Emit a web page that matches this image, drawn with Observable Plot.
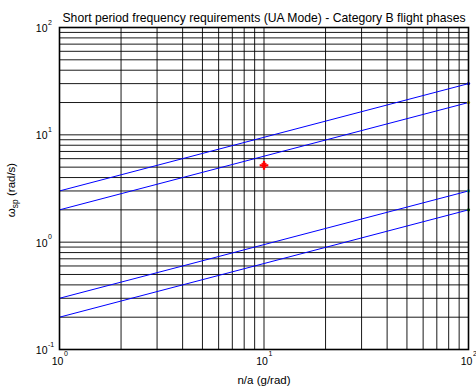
<!DOCTYPE html>
<html>
<head>
<meta charset="utf-8">
<script src="https://cdn.jsdelivr.net/npm/d3@7"></script>
<script src="https://cdn.jsdelivr.net/npm/@observablehq/plot@0.6"></script>
<style>
  html, body { margin: 0; padding: 0; background: #fff; }
  svg { display: block; }
</style>
</head>
<body>
<div id="chart"></div>
<script>
// ---- data ----
const titleText = "Short period frequency requirements (UA Mode) - Category B flight phases";
const xLabel = "n/a (g/rad)";
const nOverA = [1, 100];
const boundA = [3, 30];     // upper limit of upper band
const boundB = [2, 20];     // lower limit of upper band
const boundC = [0.3, 3];    // upper limit of lower band
const boundD = [0.2, 2];    // lower limit of lower band
const boundNames = ["A", "B", "C", "D"];
const endColors = ["#0000ff", "#bfbf00", "#00bfbf", "#008000"];
const pointX = [10];
const pointY = [5.2];
const xGrid = [1,2,3,4,5,6,7,8,9,10,20,30,40,50,60,70,80,90,100];
const yGrid = [0.1,0.2,0.3,0.4,0.5,0.6,0.7,0.8,0.9,1,2,3,4,5,6,7,8,9,10,20,30,40,50,60,70,80,90,100];
const xMajor = [1, 10, 100];
const xExp = ["0", "1", "2"];
const yMajor = [0.1, 1, 10, 100];
const yExp = ["-1", "0", "1", "2"];

// ---- build tables ----
const bounds = [boundA, boundB, boundC, boundD];
const lineRows = [];
bounds.forEach((b, i) => nOverA.forEach((x, j) => lineRows.push({x, y: b[j], s: boundNames[i]})));
const endRows = bounds.map((b, i) => ({x: nOverA[nOverA.length - 1], y: b[b.length - 1], c: endColors[i]}));
const pts = pointX.map((x, i) => ({x, y: pointY[i]}));
const xTickRows = xMajor.map((v, i) => ({v, e: xExp[i]}));
const yTickRows = yMajor.map((v, i) => ({v, e: yExp[i]}));

const font = "'Liberation Sans', Arial, Helvetica, sans-serif";

const plot = Plot.plot({
  width: 476,
  height: 392,
  marginLeft: 59,
  marginRight: 8,
  marginTop: 27,
  marginBottom: 43,
  style: {fontFamily: font, fontSize: "10px", background: "#fff", overflow: "visible"},
  x: {type: "log", domain: [1, 100], axis: null},
  y: {type: "log", domain: [0.1, 100], axis: null},
  marks: [
    Plot.ruleX(xGrid, {x: d => d, stroke: "#000", strokeWidth: 1, strokeOpacity: 0.9}),
    Plot.ruleY(yGrid, {y: d => d, stroke: "#000", strokeWidth: 1, strokeOpacity: 0.9}),
    Plot.line(lineRows, {x: "x", y: "y", z: "s", stroke: "#0000ff", strokeWidth: 1}),
    Plot.dot(endRows, {x: "x", y: "y", r: 1.6, fill: "c", stroke: null}),
    Plot.dot(pts, {x: "x", y: "y", symbol: "plus", r: 2.9, stroke: "#ff0000", strokeWidth: 2.2, fill: "none"}),
    Plot.dot(pts, {x: "x", y: "y", symbol: "times", r: 2.2, stroke: "#ff0000", strokeWidth: 1.2, fill: "none"}),
    Plot.frame({stroke: "#000", strokeWidth: 1.6}),
    // x tick labels
    Plot.text(xTickRows, {x: "v", text: () => "10", frameAnchor: "bottom", dy: 15, dx: -2, textAnchor: "middle", fontSize: 10.5, fill: "#000"}),
    Plot.text(xTickRows, {x: "v", text: "e", frameAnchor: "bottom", dy: 6.5, dx: 4.5, textAnchor: "start", fontSize: 7, fill: "#000"}),
    // y tick labels
    Plot.text(yTickRows, {y: "v", text: () => "10", frameAnchor: "left", dx: -12, dy: 1, textAnchor: "end", fontSize: 10.5, fill: "#000"}),
    Plot.text(yTickRows, {y: "v", text: "e", frameAnchor: "left", dx: -11.5, dy: -5, textAnchor: "start", fontSize: 7, fill: "#000"}),
    // title and x label
    Plot.text([titleText], {frameAnchor: "top", dy: -14, fontSize: 12.2, fill: "#000"}),
    Plot.text([xLabel], {frameAnchor: "bottom", dy: 34, fontSize: 11.5, fill: "#000"})
  ]
});

document.getElementById("chart").appendChild(plot);

// y axis label with subscript
const svg = d3.select(plot);
const yl = svg.append("text")
  .attr("transform", "translate(15,190) rotate(-90)")
  .attr("text-anchor", "middle")
  .attr("font-family", font)
  .attr("font-size", 11.5)
  .attr("fill", "#000");
yl.append("tspan").text("\u03C9");
yl.append("tspan").attr("font-size", 8.5).attr("dy", 3).text("sp");
yl.append("tspan").attr("dy", -3).text(" (rad/s)");
</script>
</body>
</html>
